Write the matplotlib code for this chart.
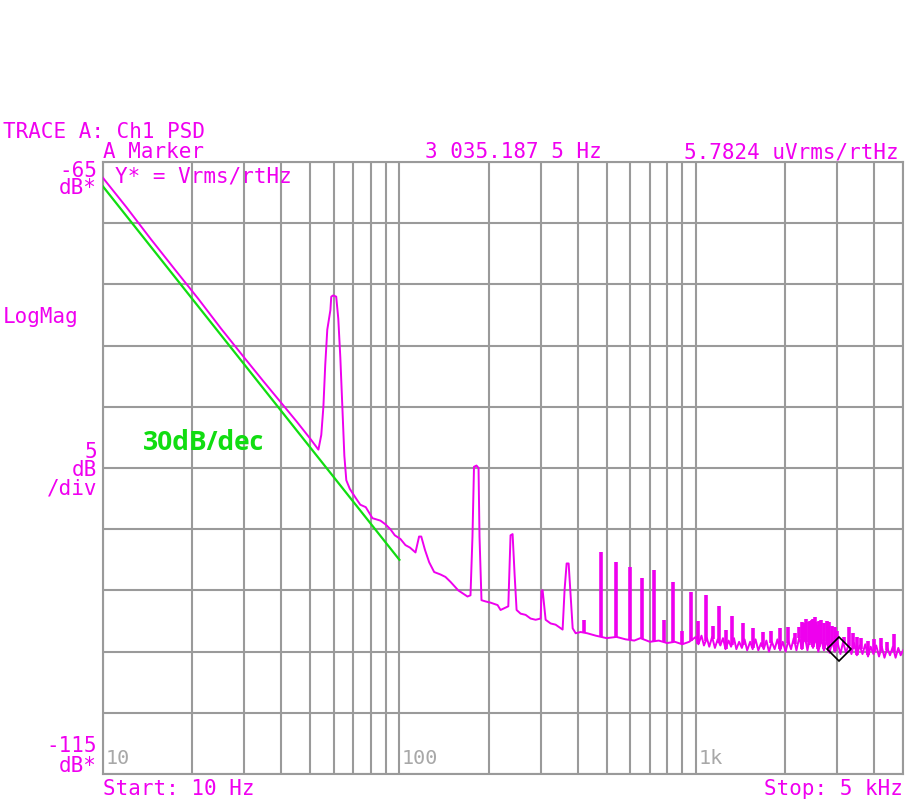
import numpy as np
import matplotlib
matplotlib.use('Agg')
import matplotlib.pyplot as plt

# Measured PSD trace (Hz, dBVrms/rtHz)
trace_f = [10, 12, 14.5, 17.5, 21, 25, 30, 35, 40, 45, 50, 53.3, 54.5, 55.4, 56.2,
           57.1, 58.5, 58.9, 59.8, 61.2, 62.2, 63.2, 64.2, 65.2, 66.2, 68, 71,
           73.8, 77, 81.1, 86.3, 89.7, 93.2, 96.5, 100.8, 104.8, 108.5, 113.3,
           116.5, 118.5, 122, 126, 131, 137.6, 143, 148.7, 158, 169.7, 173.7,
           176.4, 178.5, 182, 184.9, 186.3, 189.2, 195.2, 203, 214.4, 219.4,
           228.1, 233, 237.1, 240.9, 244.7, 248.5, 256.4, 266.6, 277.1, 288.1,
           299.5, 301.8, 304.2, 311.4, 323.7, 336.5, 355.3, 360.9, 366.6, 372.3,
           378.2, 384.2, 393.2, 408.8, 430, 460, 500, 540, 580, 620, 650, 700,
           750, 800, 850, 900, 950,
           1000, 1020, 1045, 1065, 1090, 1110, 1135, 1160, 1185, 1210,
           1235, 1260, 1290, 1315, 1345, 1370, 1400, 1430, 1460, 1490,
           1525, 1555, 1590, 1625, 1660, 1695, 1730, 1765, 1805, 1845,
           1885, 1925, 1965, 2010, 2050, 2095, 2140, 2185, 2235, 2280,
           2330, 2380, 2430, 2485, 2535, 2590, 2650, 2705, 2765, 2825,
           2885, 2945, 3010, 3075, 3140, 3210, 3280, 3350, 3420, 3495,
           3570, 3650, 3730, 3810, 3890, 3975, 4060, 4150, 4240, 4330,
           4425, 4520, 4620, 4720, 4820, 4910, 5000]
trace_db = [-66.3, -68.7, -71.3, -73.8, -76.2, -78.6, -81.0, -83.0, -84.7, -86.2,
            -87.6, -88.5, -87.3, -85.0, -81.6, -78.7, -77.1, -76.0, -75.9, -76.0,
            -77.8, -81.0, -85.0, -89.0, -91.0, -91.7, -92.4, -93.0, -93.2, -94.1,
            -94.3, -94.6, -95.0, -95.5, -95.8, -96.3, -96.5, -96.9, -95.6, -95.6,
            -96.7, -97.7, -98.5, -98.7, -98.9, -99.3, -100.0, -100.5, -100.4,
            -95.6, -89.9, -89.8, -90.0, -95.6, -100.8, -100.9, -101.0, -101.2,
            -101.6, -101.4, -101.3, -95.5, -95.4, -98.7, -101.6, -101.9, -102.0,
            -102.3, -102.4, -102.3, -100.0, -100.0, -102.4, -102.7, -102.8,
            -103.2, -99.9, -97.8, -97.8, -100.5, -103.1, -103.5, -103.4, -103.5,
            -103.7, -103.9, -103.8, -104.0, -104.1, -103.9, -104.2, -104.1,
            -104.3, -104.2, -104.4, -104.2,
            -103.8, -104.4, -103.7, -104.5, -103.9, -104.6, -103.8, -104.7, -104.0, -104.5,
            -103.9, -104.8, -104.1, -104.6, -103.9, -104.8, -104.2, -104.7, -104.0, -104.9,
            -104.2, -104.8, -104.0, -104.9, -104.3, -104.8, -104.1, -105.0, -104.2, -104.8,
            -104.0, -104.9, -104.2, -105.0, -104.1, -104.8, -103.9, -104.9, -103.8, -104.8,
            -103.7, -104.9, -103.8, -104.7, -103.9, -105.0, -104.0, -104.9, -104.1, -105.1,
            -104.2, -105.0, -104.3, -105.2, -104.2, -105.1, -104.4, -105.2, -104.3, -105.3,
            -104.5, -105.2, -104.4, -105.4, -104.6, -105.2, -104.5, -105.4, -104.6, -105.5,
            -104.7, -105.3, -104.6, -105.5, -104.7, -105.3, -104.9]

# Line harmonics / spurs above 400 Hz (Hz, peak dB)
spur_f = [420, 480, 540, 600, 660, 720, 780, 840, 900, 960, 1020, 1080, 1140,
          1200, 1260, 1320, 1440, 1560, 1680, 1800, 1920, 2040, 2160, 2230,
          2280, 2310, 2350, 2400, 2430, 2460, 2490, 2520, 2550, 2580, 2610,
          2640, 2700, 2760, 2820, 2880, 2940, 3000, 3150, 3290, 3380, 3500,
          3600, 3800, 4000, 4200, 4400, 4670]
spur_db = [-102.4, -96.9, -97.7, -98.1, -99.0, -98.3, -102.4, -99.3, -103.3,
           -100.1, -102.5, -100.4, -102.9, -101.3, -103.2, -102.1, -102.7,
           -103.1, -103.4, -103.3, -103.1, -103.0, -103.5, -103.0, -102.6,
           -102.7, -102.3, -102.6, -102.5, -102.4, -102.3, -102.2, -102.6,
           -102.8, -102.5, -102.4, -102.7, -102.5, -102.6, -102.9, -103.0,
           -103.3, -103.8, -103.0, -103.5, -103.8, -103.9, -104.1, -104.0,
           -103.9, -104.2, -103.6]

# 30 dB/dec reference line
ref_f = [10, 100]
ref_db = [-67.0, -97.5]

marker_f = 3035.1875
marker_db = -104.76

magenta = '#ee00ee'
text_c = '#f000f0'
grid_c = '#9a9a9a'
green = '#11dd11'
mono = 'DejaVu Sans Mono'

fig = plt.figure(figsize=(9.12, 8), dpi=100)
ax = fig.add_axes([103 / 912, 26 / 800, 800 / 912, 612 / 800])

ax.set_xscale('log')
ax.set_xlim(10, 5000)
ax.set_ylim(-115, -65)
ax.set_yticks(np.arange(-115, -64, 5))
ax.xaxis.set_major_locator(matplotlib.ticker.LogLocator(base=10))
ax.xaxis.set_minor_locator(matplotlib.ticker.LogLocator(base=10, subs=np.arange(2, 10)))
ax.grid(True, which='both', color=grid_c, lw=1.5)
ax.tick_params(which='both', length=0, labelbottom=False, labelleft=False)
for s in ax.spines.values():
    s.set_color(grid_c)
    s.set_linewidth(1.5)
ax.set_axisbelow(True)

ax.plot(ref_f, ref_db, color=green, lw=1.6, zorder=3)
ax.plot(trace_f, trace_db, color=magenta, lw=1.4, zorder=4)
base = np.interp(np.log10(spur_f), np.log10(trace_f), trace_db)
ax.vlines(spur_f, base, spur_db, color=magenta, lw=2.6, zorder=4)
ax.plot([marker_f], [marker_db], marker='D', ms=12, mfc='none', mec='black',
        mew=1.2, zorder=5)


def ft(x, y, s, ha='left', color=text_c, size=15, **kw):
    fig.text(x / 912, 1 - y / 800, s, ha=ha, va='baseline', color=color,
             fontsize=size, family=mono, **kw)


ft(3, 138, 'TRACE A: Ch1 PSD')
ft(103, 158, 'A Marker')
ft(425, 158, '3 035.187 5 Hz')
ft(899, 158, '5.7824 uVrms/rtHz', ha='right')
ft(97, 177, '-65', ha='right')
ft(97, 194, 'dB*', ha='right')
ft(115, 182, 'Y* = Vrms/rtHz')
ft(3, 323, 'LogMag')
ft(97, 458, '5', ha='right')
ft(97, 476, 'dB', ha='right')
ft(97, 495, '/div', ha='right')
ft(97, 752, '-115', ha='right')
ft(97, 772, 'dB*', ha='right')
ft(103, 795, 'Start: 10 Hz')
ft(903, 795, 'Stop: 5 kHz', ha='right')

for xv, lab in [(10, '10'), (100, '100'), (1000, '1k')]:
    ax.text(xv * 1.02, 0.01, lab, transform=ax.get_xaxis_transform(),
            color='#a8a8a8', fontsize=14.5, family=mono, va='bottom', ha='left')

fig.text(143 / 912, 1 - 450 / 800, '30dB/dec', color=green, fontsize=19,
         family='Open Sans', fontweight='bold', va='baseline')

fig.savefig('out.png', dpi=100, facecolor='white')
